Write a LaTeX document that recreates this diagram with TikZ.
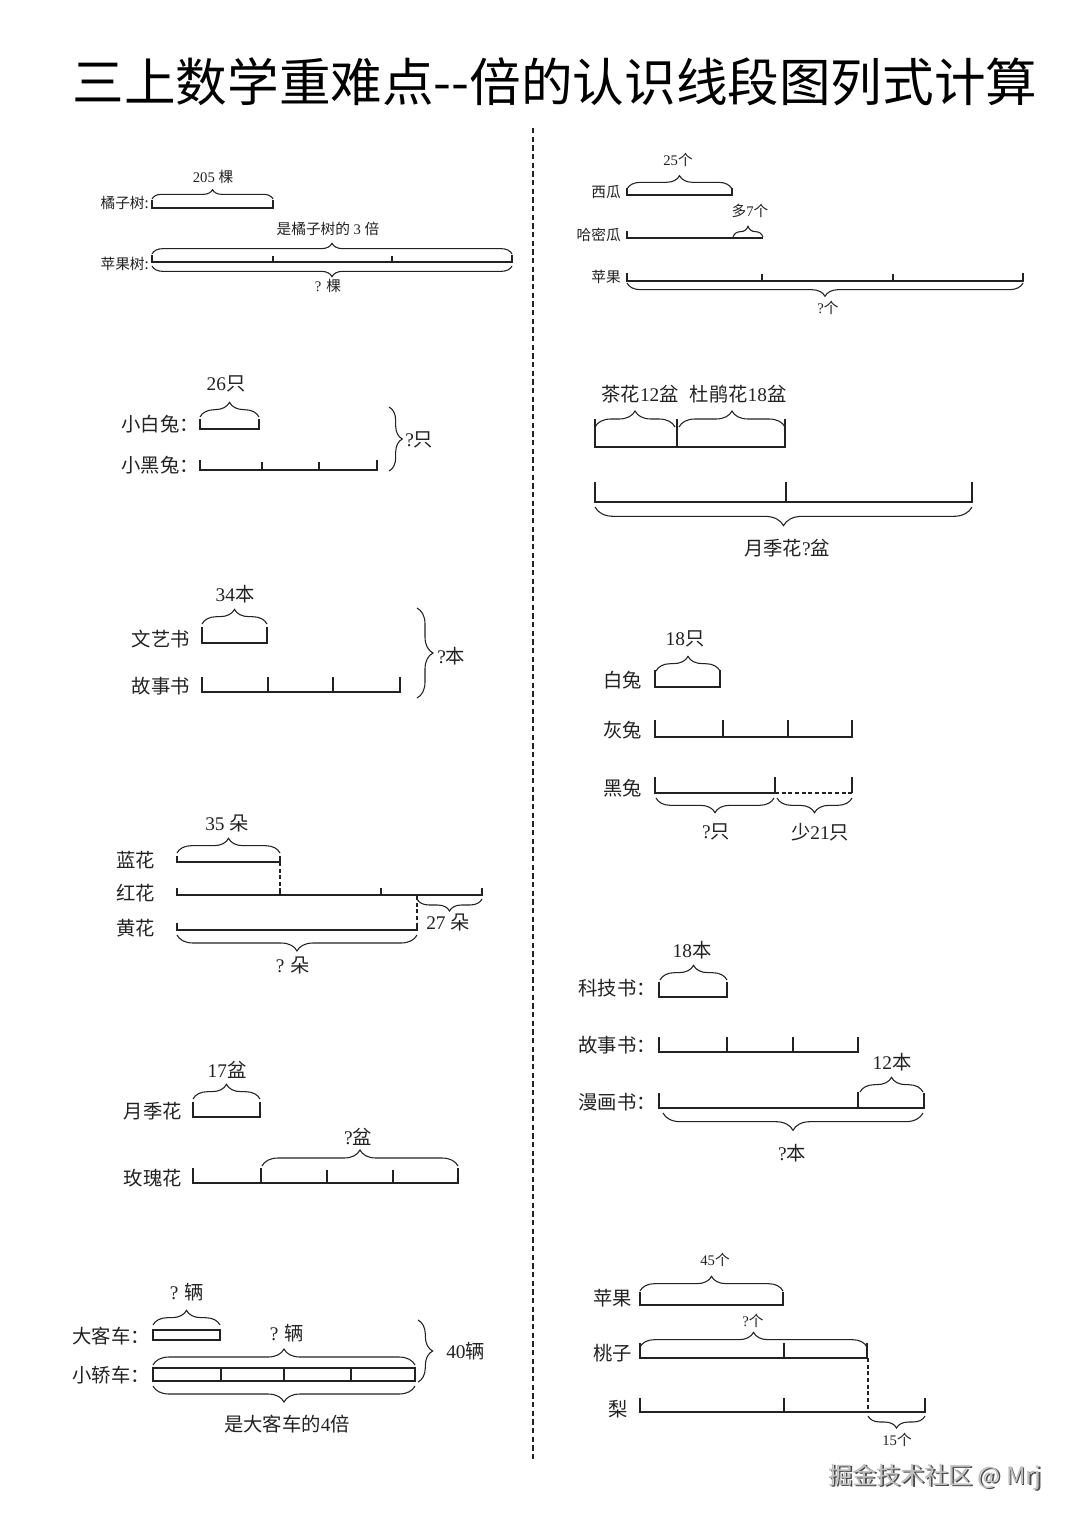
\documentclass[tikz,border=0pt]{standalone}
\usepackage{fontspec}
\setmainfont{Liberation Serif}
\newfontfamily\cjk{Noto Sans CJK SC}
\usetikzlibrary{decorations.pathreplacing}
\newcommand\zh[1]{{\cjk #1}}
\definecolor{ink}{HTML}{222222}
\tikzset{
  lbl/.style={inner sep=0pt, text=ink, font=\fontsize{14.5}{15}\selectfont},
  sml/.style={inner sep=0pt, text=ink, font=\fontsize{11}{11}\selectfont},
  seg/.style={draw=ink, line width=0.9pt},
  hseg/.style={draw=ink, line width=1.8pt},
  dseg/.style={draw=ink, line width=0.9pt, dash pattern=on 3pt off 2pt},
  brc/.style={draw=ink, line width=0.8pt, decorate, decoration={brace, amplitude=#1}},
  brc/.default=11pt,
}
\begin{document}
\begin{tikzpicture}[x=0.75pt,y=-0.75pt]
\useasboundingbox[fill=white] (0,0) rectangle (1080,1527);

% title
\node[inner sep=0pt, text=black, font=\cjk\fontsize{38.7}{40}\selectfont] (title) at (555,82) {三上数学重难点--倍的认识线段图列式计算};

% divider
\coordinate (dtop) at (533,128);
\coordinate (dbot) at (533,1460);
\draw[ink, line width=0.8pt, dash pattern=on 4pt off 2.5pt] (dtop) -- (dbot);

% ===== Panel 1 =====
\node[sml] (p1a) at (213,177) {205 \zh{棵}};
\node[sml, anchor=east] (p1l1) at (149,203) {\zh{橘子树:}};
\draw[seg] (152,200) -- (152,208) -- (273,208) -- (273,200);
\draw[brc=7pt] (152,199) -- (273,199);
\node[sml] (p1b) at (328,229) {\zh{是橘子树的} 3 \zh{倍}};
\draw[brc=8pt] (152,254) -- (512,254);
\node[sml, anchor=east] (p1l2) at (149,264) {\zh{苹果树:}};
\draw[seg] (152,255) -- (152,262) -- (512,262) -- (512,255);
\draw[seg] (273,256) -- (273,262) (392,256) -- (392,262);
\draw[brc=8pt] (512,266) -- (152,266);
\node[sml] (p1c) at (328,286) {? \zh{棵}};

% ===== Panel 2 =====
\node[lbl] (p2a) at (226,384) {26\zh{只}};
\draw[brc=11pt] (200,417) -- (259,417);
\node[lbl, anchor=east] (p2l1) at (199,424) {\zh{小白兔：}};
\draw[hseg] (200,419) -- (200,429) -- (259,429) -- (259,419);
\node[lbl, anchor=east] (p2l2) at (199,465) {\zh{小黑兔：}};
\draw[hseg] (200,460) -- (200,470) -- (377,470) -- (377,460);
\draw[hseg] (262,462) -- (262,470) (319,462) -- (319,470);
\draw[brc=10pt] (389,407) -- (389,471);
\node[lbl, anchor=west] (p2b) at (405,440) {?\zh{只}};

% ===== Panel 3 =====
\node[lbl] (p3a) at (235,594) {34\zh{本}};
\draw[brc=11pt] (202,624) -- (267,624);
\node[lbl, anchor=east] (p3l1) at (190,639) {\zh{文艺书}};
\draw[seg] (202,627) -- (202,643) -- (267,643) -- (267,627);
\node[lbl, anchor=east] (p3l2) at (190,686) {\zh{故事书}};
\draw[seg] (202,677) -- (202,692) -- (400,692) -- (400,677);
\draw[seg] (268,677) -- (268,692) (333,677) -- (333,692);
\draw[brc=12pt] (417,608) -- (417,698);
\node[lbl, anchor=west] (p3b) at (437,656) {?\zh{本}};

% ===== Panel 4 =====
\node[lbl] (p4a) at (227,823) {35 \zh{朵}};
\draw[brc=11pt] (177,853) -- (280,853);
\node[lbl, anchor=east] (p4l1) at (155,860) {\zh{蓝花}};
\draw[hseg] (177,856) -- (177,862) -- (280,862) -- (280,856);
\draw[dseg] (280,862) -- (280,893);
\node[lbl, anchor=east] (p4l2) at (155,893) {\zh{红花}};
\draw[hseg] (177,888) -- (177,895) -- (482,895) -- (482,888);
\draw[hseg] (280,888) -- (280,895) (381,888) -- (381,895);
\draw[brc=9pt] (482,899) -- (417,899);
\node[lbl] (p4b) at (448,922) {27 \zh{朵}};
\draw[dseg] (417,896) -- (417,930);
\node[lbl, anchor=east] (p4l3) at (155,928) {\zh{黄花}};
\draw[hseg] (177,923) -- (177,930) -- (417,930) -- (417,923);
\draw[brc=12pt] (417,935) -- (177,935);
\node[lbl] (p4c) at (293,965) {? \zh{朵}};

% ===== Panel 5 =====
\node[lbl] (p5a) at (227,1070) {17\zh{盆}};
\draw[brc=11pt] (193,1099) -- (260,1099);
\node[lbl, anchor=east] (p5l1) at (182,1111) {\zh{月季花}};
\draw[seg] (193,1102) -- (193,1117) -- (260,1117) -- (260,1102);
\node[lbl] (p5b) at (358,1137) {?\zh{盆}};
\draw[brc=12pt] (262,1166) -- (458,1166);
\node[lbl, anchor=east] (p5l2) at (182,1178) {\zh{玫瑰花}};
\draw[seg] (193,1168) -- (193,1183) -- (458,1183) -- (458,1168);
\draw[seg] (261,1168) -- (261,1183) (327,1170) -- (327,1183) (393,1170) -- (393,1183);

% ===== Panel 6 =====
\node[lbl] (p6a) at (187,1292) {? \zh{辆}};
\draw[brc=11pt] (153,1325) -- (220,1325);
\node[lbl, anchor=east] (p6l1) at (150,1336) {\zh{大客车：}};
\draw[seg] (153,1330) rectangle (220,1340);
\node[lbl] (p6b) at (287,1333) {? \zh{辆}};
\draw[brc=12pt] (153,1365) -- (415,1365);
\node[lbl, anchor=east] (p6l2) at (150,1375) {\zh{小轿车：}};
\draw[seg] (153,1368) rectangle (415,1381);
\draw[seg] (221,1368) -- (221,1381) (284,1368) -- (284,1381) (351,1368) -- (351,1381);
\draw[brc=12pt] (415,1386) -- (153,1386);
\node[lbl] (p6c) at (287,1424) {\zh{是大客车的}4\zh{倍}};
\draw[brc=11pt] (418,1320) -- (418,1382);
\node[lbl, anchor=west] (p6d) at (446,1351) {40\zh{辆}};

% ===== Panel 7 =====
\node[sml] (p7a) at (678,160) {25\zh{个}};
\draw[brc=10pt] (627,189) -- (732,189);
\node[sml, anchor=east] (p7l1) at (621,192) {\zh{西瓜}};
\draw[seg] (627,188) -- (627,195) -- (732,195) -- (732,188);
\node[sml] (p7b) at (750,211) {\zh{多}7\zh{个}};
\draw[brc=8pt] (733,237) -- (763,237);
\node[sml, anchor=east] (p7l2) at (621,235) {\zh{哈密瓜}};
\draw[seg] (627,231) -- (627,238) -- (763,238);
\node[sml, anchor=east] (p7l3) at (621,277) {\zh{苹果}};
\draw[seg] (627,273) -- (627,281) -- (1023,281) -- (1023,273);
\draw[seg] (762,274) -- (762,281) (893,274) -- (893,281);
\draw[brc=10pt] (1023,283) -- (627,283);
\node[sml] (p7c) at (828,308) {?\zh{个}};

% ===== Panel 8 =====
\node[lbl] (p8a) at (640,394) {\zh{茶花}12\zh{盆}};
\node[lbl] (p8b) at (738,394) {\zh{杜鹃花}18\zh{盆}};
\draw[brc=12pt] (595,427) -- (675,427);
\draw[brc=12pt] (679,427) -- (785,427);
\draw[seg] (595,419) -- (595,447) -- (785,447) -- (785,419);
\draw[seg] (677,419) -- (677,447);
\draw[seg] (595,482) -- (595,502) -- (972,502) -- (972,482);
\draw[seg] (786,482) -- (786,502);
\draw[brc=14pt] (972,507) -- (595,507);
\node[lbl] (p8c) at (787,548) {\zh{月季花}?\zh{盆}};

% ===== Panel 9 =====
\node[lbl] (p9a) at (685,639) {18\zh{只}};
\draw[brc=11pt] (656,671) -- (720,671);
\node[lbl, anchor=east] (p9l1) at (642,680) {\zh{白兔}};
\draw[seg] (655,670) -- (655,687) -- (720,687) -- (720,670);
\node[lbl, anchor=east] (p9l2) at (642,730) {\zh{灰兔}};
\draw[seg] (655,720) -- (655,737) -- (852,737) -- (852,720);
\draw[seg] (723,720) -- (723,737) (788,720) -- (788,737);
\node[lbl, anchor=east] (p9l3) at (642,788) {\zh{黑兔}};
\draw[seg] (655,777) -- (655,793) -- (775,793);
\draw[seg] (775,777) -- (775,793) (852,777) -- (852,793);
\draw[dseg] (775,793) -- (852,793);
\draw[brc=11pt] (774,798) -- (656,798);
\draw[brc=11pt] (852,798) -- (777,798);
\node[lbl] (p9b) at (716,832) {?\zh{只}};
\node[lbl] (p9c) at (820,832) {\zh{少}21\zh{只}};

% ===== Panel 10 =====
\node[lbl] (p10a) at (692,950) {18\zh{本}};
\draw[brc=11pt] (660,980) -- (727,980);
\node[lbl, anchor=east] (p10l1) at (656,988) {\zh{科技书：}};
\draw[seg] (659,982) -- (659,997) -- (727,997) -- (727,982);
\node[lbl, anchor=east] (p10l2) at (656,1045) {\zh{故事书：}};
\draw[seg] (659,1037) -- (659,1052) -- (858,1052) -- (858,1037);
\draw[seg] (727,1037) -- (727,1052) (793,1037) -- (793,1052);
\node[lbl] (p10b) at (892,1062) {12\zh{本}};
\draw[brc=11pt] (860,1092) -- (923,1092);
\node[lbl, anchor=east] (p10l3) at (656,1102) {\zh{漫画书：}};
\draw[seg] (659,1093) -- (659,1108) -- (924,1108) -- (924,1093);
\draw[seg] (858,1092) -- (858,1108);
\draw[brc=13pt] (923,1113) -- (663,1113);
\node[lbl] (p10c) at (792,1153) {?\zh{本}};

% ===== Panel 11 =====
\node[sml] (p11a) at (715,1260) {45\zh{个}};
\draw[brc=11pt] (640,1291) -- (783,1291);
\node[lbl, anchor=east] (p11l1) at (632,1298) {\zh{苹果}};
\draw[seg] (640,1292) -- (640,1305) -- (783,1305) -- (783,1292);
\node[sml] (p11b) at (753,1321) {?\zh{个}};
\draw[brc=11pt] (640,1347) -- (867,1347);
\node[lbl, anchor=east] (p11l2) at (632,1353) {\zh{桃子}};
\draw[seg] (640,1343) -- (640,1358) -- (867,1358) -- (867,1343);
\draw[seg] (784,1343) -- (784,1358);
\draw[dseg] (868,1358) -- (868,1412);
\node[lbl, anchor=east] (p11l3) at (628,1409) {\zh{梨}};
\draw[seg] (640,1398) -- (640,1412) -- (925,1412) -- (925,1398);
\draw[seg] (784,1398) -- (784,1412);
\draw[brc=9pt] (925,1416) -- (868,1416);
\node[sml] (p11c) at (897,1440) {15\zh{个}};

% watermark
\node[inner sep=0pt, text=black!70, font=\cjk\fontsize{18}{18}\selectfont] (wms) at (936.5,1478.5) {掘金技术社区 @ Mrj};
\node[inner sep=0pt, text=black!25, font=\cjk\fontsize{18}{18}\selectfont] (wm) at (935,1477) {掘金技术社区 @ Mrj};
\end{tikzpicture}
\end{document}
